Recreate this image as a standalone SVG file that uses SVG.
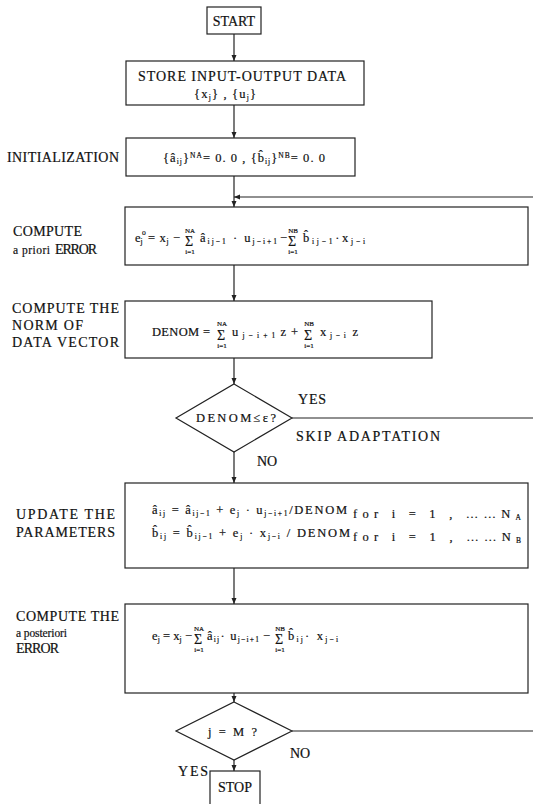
<svg xmlns="http://www.w3.org/2000/svg" width="533" height="804" viewBox="0 0 533 804">
<defs>
<style>
text{font-family:"Liberation Serif","Times New Roman",serif;fill:#111;stroke:#111;stroke-width:0.2;}
.lb{font-size:14px;}
.it{font-size:11.5px;}
.f{font-size:12.5px;}
.s{font-size:7.5px;}
.sg{font-size:14px;}
.lim{font-size:7px;text-anchor:middle;}
.box{fill:#fff;stroke:#222;stroke-width:1.2;}
.ln{fill:none;stroke:#222;stroke-width:1.2;}
</style>
<marker id="ah" viewBox="0 0 6 6" refX="6" refY="3" markerWidth="5" markerHeight="5" orient="auto"><path d="M0,0.5 L6,3 L0,5.5 z" fill="#222"/></marker>
</defs>
<rect width="533" height="804" fill="#fff"/>

<g id="connectors">
<line class="ln" x1="234" y1="34" x2="234" y2="61" marker-end="url(#ah)"/>
<line class="ln" x1="234" y1="105" x2="234" y2="138" marker-end="url(#ah)"/>
<line class="ln" x1="234" y1="176" x2="234" y2="207" marker-end="url(#ah)"/>
<line class="ln" x1="533" y1="197" x2="234" y2="197" marker-end="url(#ah)"/>
<line class="ln" x1="234" y1="265" x2="234" y2="301" marker-end="url(#ah)"/>
<line class="ln" x1="234" y1="358" x2="234" y2="384" marker-end="url(#ah)"/>
<line class="ln" x1="292" y1="418" x2="533" y2="418"/>
<line class="ln" x1="234" y1="452" x2="234" y2="483" marker-end="url(#ah)"/>
<line class="ln" x1="234" y1="568" x2="234" y2="604" marker-end="url(#ah)"/>
<line class="ln" x1="234" y1="693" x2="234" y2="702" marker-end="url(#ah)"/>
<line class="ln" x1="292" y1="731" x2="533" y2="731"/>
<line class="ln" x1="234" y1="760" x2="234" y2="771" marker-end="url(#ah)"/>
</g>

<g id="start">
<rect class="box" x="207" y="7" width="54" height="27"/>
<text class="lb" x="234" y="26" text-anchor="middle">START</text>
</g>

<g id="store">
<rect class="box" x="126" y="61" width="238" height="44"/>
<text class="lb" x="138" y="81" textLength="208" lengthAdjust="spacing">STORE INPUT-OUTPUT DATA</text>
<text class="f" x="194" y="98" textLength="62" lengthAdjust="spacing">{x<tspan class="s" dy="2">j</tspan><tspan dy="-2">} , {u</tspan><tspan class="s" dy="2">j</tspan><tspan dy="-2">}</tspan></text>
</g>

<g id="init">
<text class="lb" x="7" y="162" textLength="112" lengthAdjust="spacing">INITIALIZATION</text>
<rect class="box" x="126" y="138" width="229" height="38"/>
<text class="f" x="163" y="162" textLength="162" lengthAdjust="spacing">{â<tspan class="s" dy="2">ij</tspan><tspan dy="-2">}</tspan><tspan class="s" dy="-4">NA</tspan><tspan dy="4">= 0. 0 , {b̂</tspan><tspan class="s" dy="2">ij</tspan><tspan dy="-2">}</tspan><tspan class="s" dy="-4">NB</tspan><tspan dy="4">= 0. 0</tspan></text>
</g>

<g id="apriori">
<text class="lb" x="13" y="236" textLength="69" lengthAdjust="spacing">COMPUTE</text>
<text class="it" x="13" y="254" textLength="37" lengthAdjust="spacing">a priori</text>
<text class="lb" x="55" y="254" textLength="42" lengthAdjust="spacing">ERROR</text>
<rect class="box" x="125" y="207" width="403" height="58"/>
<text class="f" x="135" y="242">e<tspan class="s" dy="2">j</tspan></text>
<text class="s" x="142" y="235">o</text>
<text class="f" x="148" y="242" textLength="32" lengthAdjust="spacing">= x<tspan class="s" dy="2">j</tspan><tspan dy="-2"> −</tspan></text>
<text class="sg" x="185" y="246">Σ</text>
<text class="lim" x="190" y="233">NA</text>
<text class="lim" x="190" y="254">i=1</text>
<text class="f" x="200" y="242" textLength="77" lengthAdjust="spacing">â<tspan class="s" dy="2">ij−1</tspan><tspan dy="-2"> · u</tspan><tspan class="s" dy="2">j−i+1</tspan></text>
<text class="f" x="280" y="242">−</text>
<text class="sg" x="288" y="246">Σ</text>
<text class="lim" x="293" y="233">NB</text>
<text class="lim" x="293" y="254">i=1</text>
<text class="f" x="303" y="242" textLength="62" lengthAdjust="spacing">b̂<tspan class="s" dy="2">ij−1</tspan><tspan dy="-2">·x</tspan><tspan class="s" dy="2">j−i</tspan></text>
</g>

<g id="norm">
<text class="lb" x="12" y="313" textLength="107" lengthAdjust="spacing">COMPUTE THE</text>
<text class="lb" x="12" y="330" textLength="71" lengthAdjust="spacing">NORM OF</text>
<text class="lb" x="12" y="347" textLength="107" lengthAdjust="spacing">DATA VECTOR</text>
<rect class="box" x="125" y="301" width="307" height="57"/>
<text class="f" x="152" y="336" textLength="58" lengthAdjust="spacing">DENOM =</text>
<text class="sg" x="217" y="340">Σ</text>
<text class="lim" x="222" y="326">NA</text>
<text class="lim" x="222" y="348">i=1</text>
<text class="f" x="232" y="336" textLength="54" lengthAdjust="spacing">u<tspan class="s" dy="2">j−i+1</tspan><tspan dx="1" dy="-2">z</tspan></text>
<text class="f" x="291" y="336">+</text>
<text class="sg" x="304" y="340">Σ</text>
<text class="lim" x="309" y="326">NB</text>
<text class="lim" x="309" y="348">i=1</text>
<text class="f" x="320" y="336" textLength="38" lengthAdjust="spacing">x<tspan class="s" dy="2">j−i</tspan><tspan dx="3" dy="-2">z</tspan></text>
</g>

<g id="check-denom">
<polygon class="box" points="234,384 292,418 234,452 176,418"/>
<text class="f" x="196" y="422" textLength="80" lengthAdjust="spacing">DENOM≤ε?</text>
<text class="lb" x="298" y="404" textLength="28" lengthAdjust="spacing">YES</text>
<text class="lb" x="296" y="441" textLength="144" lengthAdjust="spacing">SKIP ADAPTATION</text>
<text class="lb" x="257" y="466">NO</text>
</g>

<g id="update">
<text class="lb" x="16" y="519" textLength="99" lengthAdjust="spacing">UPDATE THE</text>
<text class="lb" x="16" y="537" textLength="99" lengthAdjust="spacing">PARAMETERS</text>
<rect class="box" x="125" y="483" width="403" height="85"/>
<text class="f" x="152" y="514" textLength="195" lengthAdjust="spacing">â<tspan class="s" dy="2">ij</tspan><tspan dy="-2"> = â</tspan><tspan class="s" dy="2">ij−1</tspan><tspan dy="-2"> + e</tspan><tspan class="s" dy="2">j</tspan><tspan dy="-2"> · u</tspan><tspan class="s" dy="2">j−i+1</tspan><tspan dy="-2">/DENOM</tspan></text>
<text class="f" x="353" y="518" textLength="168" lengthAdjust="spacing">for i = 1 ,  ……N<tspan class="s" dy="2">A</tspan></text>
<text class="f" x="152" y="537" textLength="198" lengthAdjust="spacing">b̂<tspan class="s" dy="2">ij</tspan><tspan dy="-2"> = b̂</tspan><tspan class="s" dy="2">ij−1</tspan><tspan dy="-2"> + e</tspan><tspan class="s" dy="2">j</tspan><tspan dy="-2"> · x</tspan><tspan class="s" dy="2">j−i</tspan><tspan dy="-2"> / DENOM</tspan></text>
<text class="f" x="353" y="541" textLength="168" lengthAdjust="spacing">for i = 1 ,  ……N<tspan class="s" dy="2">B</tspan></text>
</g>

<g id="aposteriori">
<text class="lb" x="16" y="621" textLength="103" lengthAdjust="spacing">COMPUTE THE</text>
<text class="it" x="16" y="637" textLength="51" lengthAdjust="spacing">a posteriori</text>
<text class="lb" x="16" y="653" textLength="43" lengthAdjust="spacing">ERROR</text>
<rect class="box" x="125" y="604" width="403" height="89"/>
<text class="f" x="152" y="640" textLength="40" lengthAdjust="spacing">e<tspan class="s" dy="2">j</tspan><tspan dy="-2"> = x</tspan><tspan class="s" dy="2">j</tspan><tspan dy="-2"> −</tspan></text>
<text class="sg" x="194" y="644">Σ</text>
<text class="lim" x="199" y="631">NA</text>
<text class="lim" x="199" y="652">i=1</text>
<text class="f" x="207" y="640" textLength="52" lengthAdjust="spacing">â<tspan class="s" dy="2">ij</tspan><tspan dy="-2">· u</tspan><tspan class="s" dy="2">j−i+1</tspan></text>
<text class="f" x="263" y="640">−</text>
<text class="sg" x="275" y="644">Σ</text>
<text class="lim" x="280" y="631">NB</text>
<text class="lim" x="280" y="652">i=1</text>
<text class="f" x="288" y="640" textLength="50" lengthAdjust="spacing">b̂<tspan class="s" dy="2">ij</tspan><tspan dy="-2">· x</tspan><tspan class="s" dy="2">j−i</tspan></text>
</g>

<g id="check-end">
<polygon class="box" points="234,702 292,731 234,760 176,731"/>
<text class="f" x="208" y="736" textLength="49" lengthAdjust="spacing">j = M   ?</text>
<text class="lb" x="290" y="758">NO</text>
<text class="lb" x="178" y="776" textLength="30" lengthAdjust="spacing">YES</text>
</g>

<g id="stop">
<rect class="box" x="210" y="771" width="50" height="40"/>
<text class="lb" x="235" y="792" text-anchor="middle">STOP</text>
</g>
</svg>
